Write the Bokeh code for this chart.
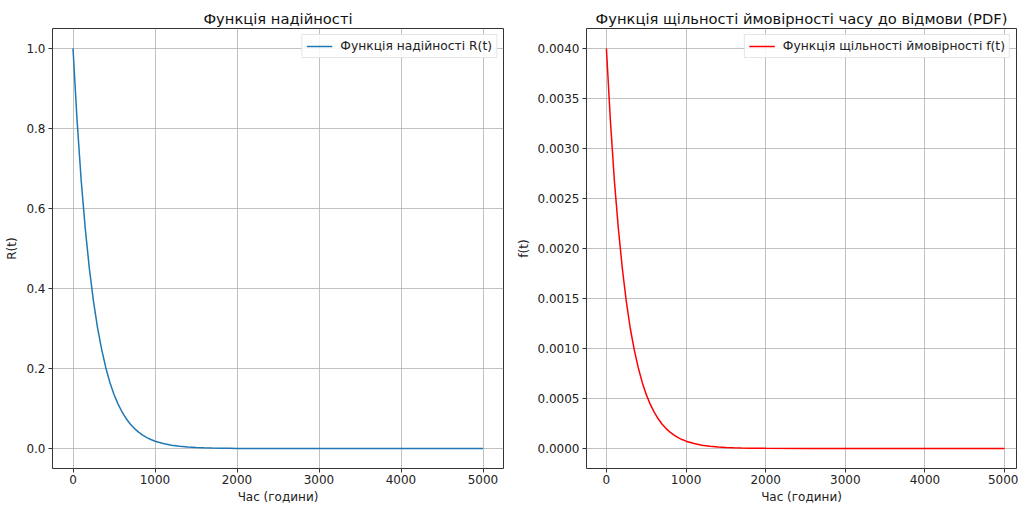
from bokeh.plotting import figure
from bokeh.layouts import row
from bokeh.models import FixedTicker, NumeralTickFormatter, Range1d, Legend, LegendItem
from bokeh.embed import file_html
from bokeh.resources import INLINE

# time (hours)
t_hours = [0, 50, 100, 150, 200, 250, 300, 350, 400, 450, 500, 550, 600, 650, 700,
           750, 800, 850, 900, 950, 1000, 1100, 1200, 1300, 1400, 1500, 1600, 1700,
           1800, 1900, 2000, 2500, 3000, 3500, 4000, 4500, 5000]
# reliability R(t)
r_values = [1.0, 0.819, 0.670, 0.549, 0.449, 0.368, 0.301, 0.247, 0.202, 0.165, 0.135,
            0.111, 0.0907, 0.0743, 0.0608, 0.0498, 0.0408, 0.0334, 0.0273, 0.0224, 0.0183,
            0.0123, 0.0082, 0.0055, 0.0037, 0.0025, 0.0017, 0.0011, 0.0007, 0.0005,
            0.0003, 0.0, 0.0, 0.0, 0.0, 0.0, 0.0]
# density f(t)
f_values = [0.0040, 0.00328, 0.00268, 0.00220, 0.00180, 0.00147, 0.00120, 0.000987,
            0.000808, 0.000661, 0.000541, 0.000443, 0.000363, 0.000297, 0.000243,
            0.000199, 0.000163, 0.000134, 0.000109, 0.0000895, 0.0000733, 0.0000491,
            0.0000329, 0.0000221, 0.0000148, 0.0000099, 0.0000066, 0.0000045,
            0.000003, 0.000002, 0.0000013, 0.0, 0.0, 0.0, 0.0, 0.0, 0.0]

x_ticks = [0, 1000, 2000, 3000, 4000, 5000]
r_ticks = [0.0, 0.2, 0.4, 0.6, 0.8, 1.0]
f_ticks = [0.0, 0.0005, 0.0010, 0.0015, 0.0020, 0.0025, 0.0030, 0.0035, 0.0040]

FONT = "DejaVu Sans"


def style(p, yticks, yfmt, xlabel, ylabel, title):
    p.title.text = title
    p.title.align = "center"
    p.title.text_font = FONT
    p.title.text_font_size = "14.7px"
    p.title.text_font_style = "normal"
    p.title.text_color = "#111111"
    p.title.standoff = 3
    p.outline_line_color = "#333333"
    p.outline_line_width = 1
    p.background_fill_color = "white"
    p.border_fill_color = "white"
    p.xaxis.ticker = FixedTicker(ticks=x_ticks)
    p.yaxis.ticker = FixedTicker(ticks=yticks)
    p.yaxis.formatter = NumeralTickFormatter(format=yfmt)
    p.xaxis.axis_label = xlabel
    p.yaxis.axis_label = ylabel
    for ax in (p.xaxis, p.yaxis):
        ax.axis_line_color = None
        ax.major_tick_in = 0
        ax.major_tick_out = 4
        ax.major_tick_line_color = "#333333"
        ax.minor_tick_line_color = None
        ax.major_label_text_font = FONT
        ax.major_label_text_font_size = "12px"
        ax.major_label_text_color = "#222222"
        ax.axis_label_text_font = FONT
        ax.axis_label_text_font_size = "12px"
        ax.axis_label_text_font_style = "normal"
        ax.axis_label_text_color = "#222222"
    p.xaxis.major_label_standoff = 2
    p.xaxis.axis_label_standoff = 3
    p.yaxis.major_label_standoff = 3
    p.yaxis.axis_label_standoff = 4
    p.grid.grid_line_color = "#b0b0b0"
    p.grid.grid_line_width = 0.8


def add_legend(p, renderer, label):
    leg = Legend(items=[LegendItem(label=label, renderers=[renderer])],
                 location="top_right")
    leg.label_text_font = FONT
    leg.label_text_font_size = "12.3px"
    leg.label_text_color = "#222222"
    leg.glyph_width = 26
    leg.glyph_height = 14
    leg.label_standoff = 8
    leg.padding = 4
    leg.margin = 6
    leg.border_line_color = "#cccccc"
    leg.border_line_width = 1
    leg.background_fill_alpha = 0.85
    p.add_layout(leg)


p1 = figure(width=508, height=507, output_backend="svg", toolbar_location=None,
            x_range=Range1d(-250, 5250), y_range=Range1d(-0.05, 1.05),
            min_border_left=52, min_border_right=5, min_border_top=28, min_border_bottom=39)
style(p1, r_ticks, "0.0", "Час (години)", "R(t)", "Функція надійності")
r1 = p1.line(t_hours, r_values, line_color="#1f77b4", line_width=1.5)
add_legend(p1, r1, "Функція надійності R(t)")

p2 = figure(width=510, height=507, output_backend="svg", toolbar_location=None,
            x_range=Range1d(-250, 5150), y_range=Range1d(-0.0002, 0.0042),
            min_border_left=78, min_border_right=2, min_border_top=28, min_border_bottom=39)
style(p2, f_ticks, "0.0000", "Час (години)", "f(t)",
      "Функція щільності ймовірності часу до відмови (PDF)")
r2 = p2.line(t_hours, f_values, line_color="red", line_width=1.5)
add_legend(p2, r2, "Функція щільності ймовірності f(t)")

layout = row(p1, p2)
open("out.html", "w").write(file_html(layout, INLINE))
